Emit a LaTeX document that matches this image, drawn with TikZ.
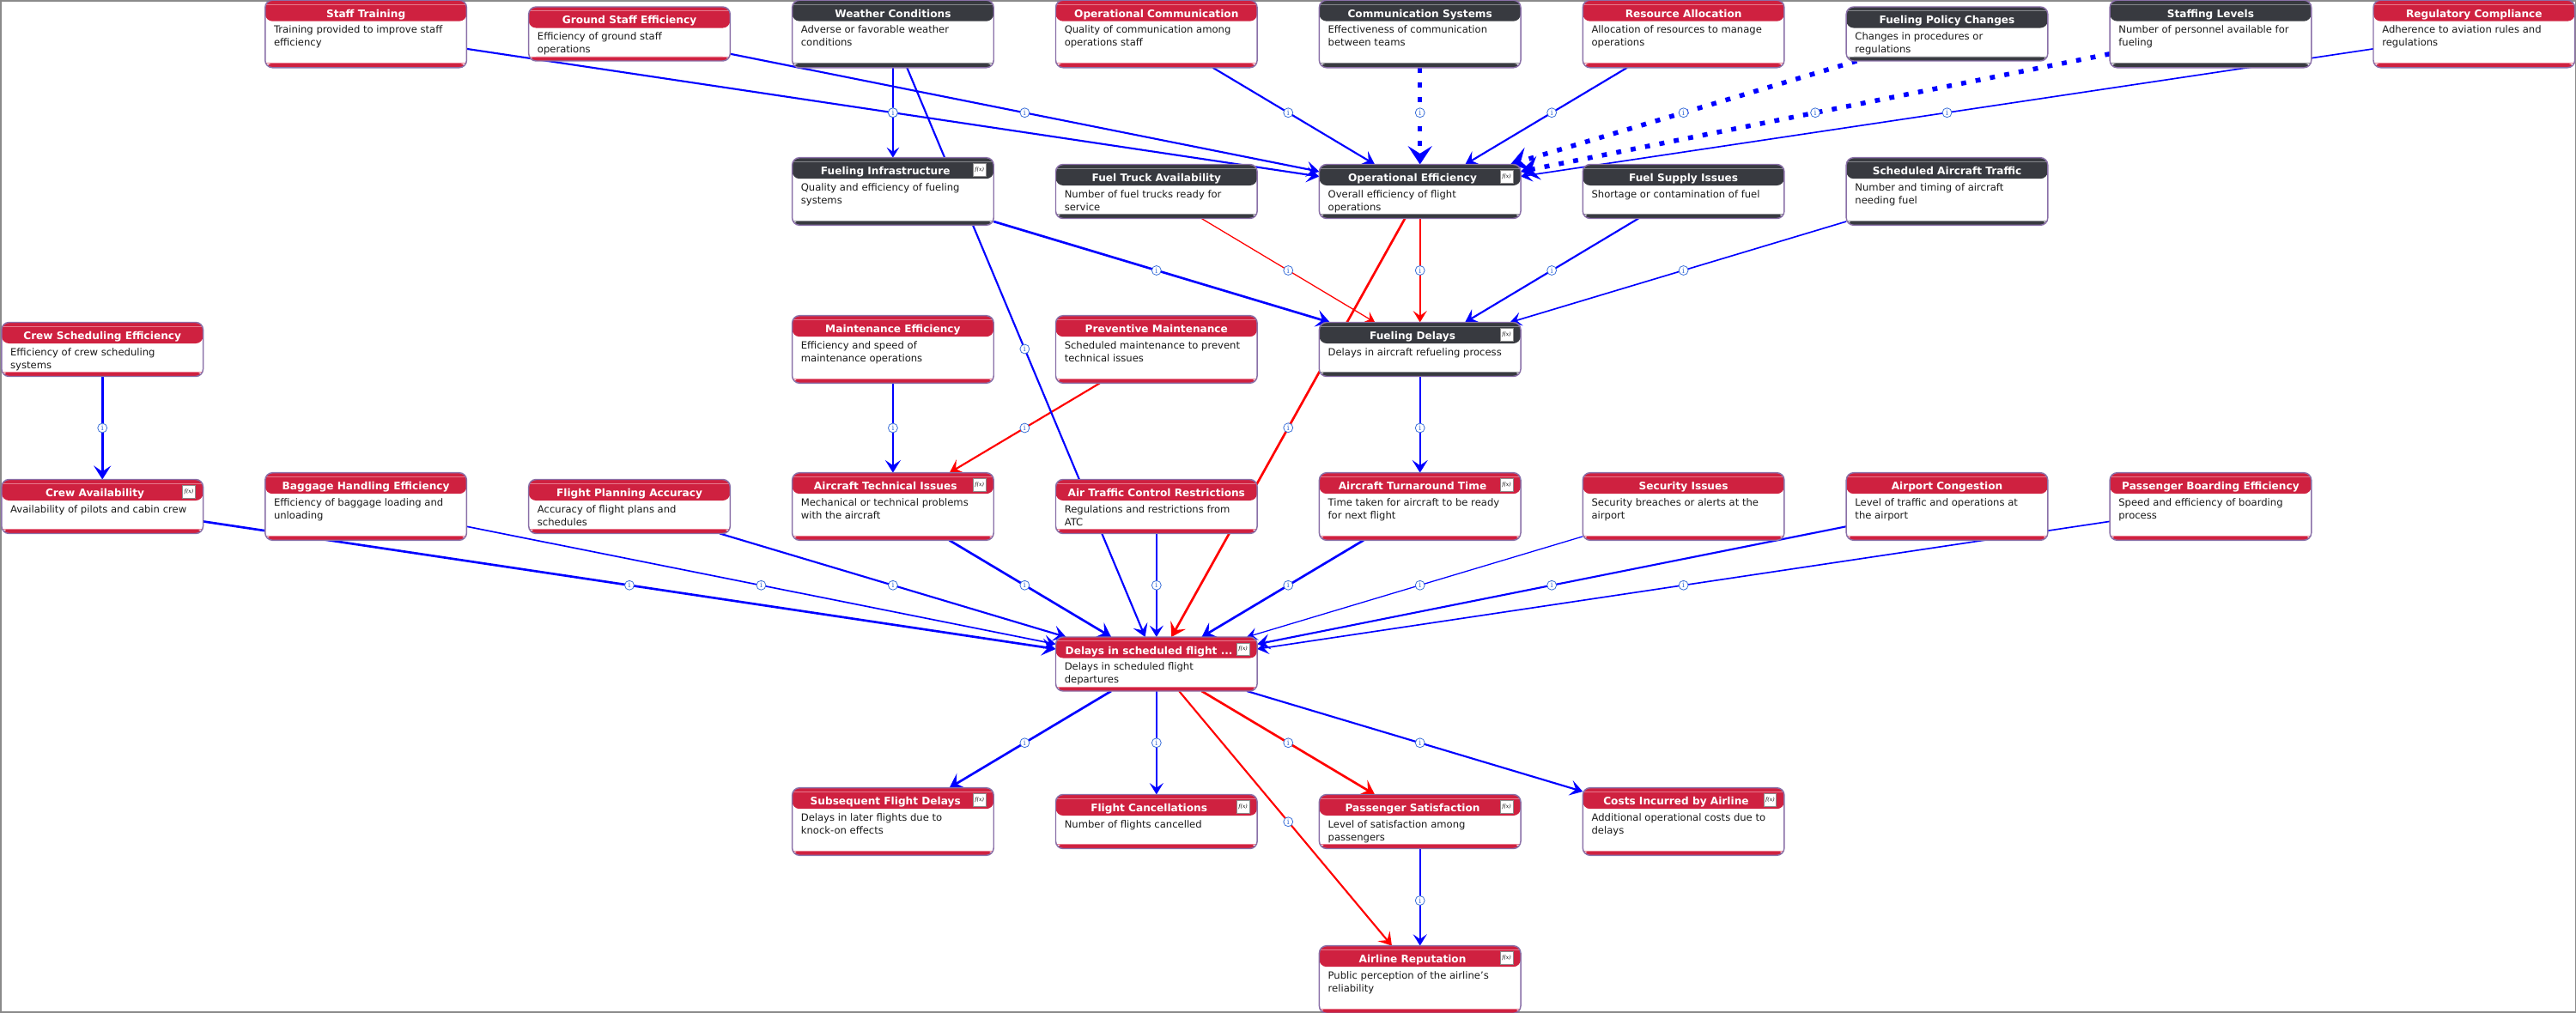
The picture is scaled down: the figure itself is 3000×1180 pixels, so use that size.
\documentclass[tikz,border=0pt]{standalone}
\usepackage{fontspec}
\setmainfont{DejaVu Sans}
\newfontfamily\iconfont{DejaVu Serif}
\usetikzlibrary{arrows.meta,calc}
\definecolor{hred}{HTML}{CF2140}
\definecolor{hredl}{HTML}{E8788C}
\definecolor{hdark}{HTML}{383A40}
\definecolor{hdarkl}{HTML}{85878C}
\definecolor{boxedge}{HTML}{8A70A8}
\definecolor{lblblue}{HTML}{3A6FD8}
\definecolor{framegray}{HTML}{8A8A8A}
\pgfdeclarelayer{edges}
\pgfdeclarelayer{labels}
\pgfsetlayers{edges,labels,main}
\tikzset{
  box/.style={draw=boxedge,line width=1.1pt,fill=white,rounded corners=6.5pt,
    minimum width=176pt,inner sep=0pt,outer sep=0pt,
    path picture={
      \fill[#1] (path picture bounding box.north west) rectangle ([yshift=-18.4pt]path picture bounding box.north east);
      \fill[#1] (path picture bounding box.south west) rectangle ([yshift=3.75pt]path picture bounding box.south east);
      \draw[#1l,line width=.55pt] ([yshift=-3.6pt]path picture bounding box.north west) -- ([yshift=-3.6pt]path picture bounding box.north east);
      \draw[#1l,line width=.55pt] ([yshift=3.75pt]path picture bounding box.south west) -- ([yshift=3.75pt]path picture bounding box.south east);
    }},
  tallbox/.style={minimum height=59pt},
  shortbox/.style={minimum height=47.25pt},
  ttl/.style={text=white,font=\fontsize{9.1}{9}\selectfont\bfseries,inner sep=0pt,anchor=base},
  dsc/.style={text=black!90,font=\fontsize{8.7}{11.25}\selectfont,align=left,inner sep=0pt,anchor=north west},
  fxi/.style={draw=black!45,line width=.4pt,fill=white,minimum size=11pt,inner sep=0pt,font=\iconfont\itshape\fontsize{4.6}{5}\selectfont},
  lbl/.style={circle,draw=lblblue,line width=.6pt,fill=white,minimum size=8.2pt,inner sep=0pt,text=lblblue,font=\iconfont\fontsize{6.6}{6}\selectfont},
  e15/.style={line width=.95pt,-{Stealth[length=9pt,width=11pt,inset=3.8pt]}},
  e2/.style={line width=1.25pt,-{Stealth[length=10pt,width=12pt,inset=4.2pt]}},
  e25/.style={line width=1.6pt,-{Stealth[length=11pt,width=13.5pt,inset=4.6pt]}},
  e3/.style={line width=2pt,-{Stealth[length=12pt,width=15pt,inset=5pt]}},
  e6/.style={line width=4.1pt,dash pattern=on 4.4pt off 8.4pt,-{Stealth[length=16pt,width=21pt,inset=6.5pt]}},
}
\newcommand{\bx}[8]{%
  \node[box=#5,#4box] (#1) at ({119.2+306.9*#2},#3) {};
  \node[ttl] (#1-t) at ([xshift=#6pt,yshift=-15pt]#1.north) {#7};
  \node[dsc] (#1-d) at ([xshift=7.5pt,yshift=-22.2pt]#1.north west) {#8};
}
\newcommand{\fx}[1]{%
  \node[fxi] (#1-fx) at ([xshift=-12.4pt,yshift=-10.6pt]#1.north east) {f(x)};
}
\newcommand{\ed}[4]{%
  \begin{pgfonlayer}{edges}\draw[#1,#4] (#2) -- (#3);\end{pgfonlayer}
  \begin{pgfonlayer}{labels}\node[lbl] (l-#2-#3) at ($(#2)!.5!(#3)$) {i};\end{pgfonlayer}
}
\begin{document}
\begin{tikzpicture}[x=0.75pt,y=-0.75pt]
\useasboundingbox (0,0) rectangle (3000,1180);
\begin{pgfonlayer}{edges}
\draw[framegray,line width=1.1pt] (0.8,0.8) rectangle (2999.2,1179.2);
\end{pgfonlayer}
% row 1
\bx{staff}{1}{39.5}{tall}{hred}{0}{Staff Training}{Training provided to improve staff\\efficiency}
\bx{ground}{2}{39.5}{short}{hred}{0}{Ground Staff Efficiency}{Efficiency of ground staff\\operations}
\bx{weather}{3}{39.5}{tall}{hdark}{0}{Weather Conditions}{Adverse or favorable weather\\conditions}
\bx{opcomm}{4}{39.5}{tall}{hred}{0}{Operational Communication}{Quality of communication among\\operations staff}
\bx{commsys}{5}{39.5}{tall}{hdark}{0}{Communication Systems}{Effectiveness of communication\\between teams}
\bx{resource}{6}{39.5}{tall}{hred}{0}{Resource Allocation}{Allocation of resources to manage\\operations}
\bx{policy}{7}{39.5}{short}{hdark}{0}{Fueling Policy Changes}{Changes in procedures or\\regulations}
\bx{staffing}{8}{39.5}{tall}{hdark}{0}{Staffing Levels}{Number of personnel available for\\fueling}
\bx{regul}{9}{39.5}{tall}{hred}{0}{Regulatory Compliance}{Adherence to aviation rules and\\regulations}
% row 2
\bx{infra}{3}{223}{tall}{hdark}{-6.5}{Fueling Infrastructure}{Quality and efficiency of fueling\\systems}\fx{infra}
\bx{truck}{4}{223}{short}{hdark}{0}{Fuel Truck Availability}{Number of fuel trucks ready for\\service}
\bx{opeff}{5}{223}{short}{hdark}{-6.5}{Operational Efficiency}{Overall efficiency of flight\\operations}\fx{opeff}
\bx{supply}{6}{223}{short}{hdark}{0}{Fuel Supply Issues}{Shortage or contamination of fuel}
\bx{sched}{7}{223}{tall}{hdark}{0}{Scheduled Aircraft Traffic}{Number and timing of aircraft\\needing fuel}
% row 3
\bx{crewsched}{0}{407}{short}{hred}{0}{Crew Scheduling Efficiency}{Efficiency of crew scheduling\\systems}
\bx{maint}{3}{407}{tall}{hred}{0}{Maintenance Efficiency}{Efficiency and speed of\\maintenance operations}
\bx{prevent}{4}{407}{tall}{hred}{0}{Preventive Maintenance}{Scheduled maintenance to prevent\\technical issues}
\bx{fueldelay}{5}{407}{short}{hdark}{-6.5}{Fueling Delays}{Delays in aircraft refueling process}\fx{fueldelay}
% row 4
\bx{crew}{0}{590}{short}{hred}{-6.5}{Crew Availability}{Availability of pilots and cabin crew}\fx{crew}
\bx{baggage}{1}{590}{tall}{hred}{0}{Baggage Handling Efficiency}{Efficiency of baggage loading and\\unloading}
\bx{planning}{2}{590}{short}{hred}{0}{Flight Planning Accuracy}{Accuracy of flight plans and\\schedules}
\bx{tech}{3}{590}{tall}{hred}{-6.5}{Aircraft Technical Issues}{Mechanical or technical problems\\with the aircraft}\fx{tech}
\bx{atc}{4}{590}{short}{hred}{0}{Air Traffic Control Restrictions}{Regulations and restrictions from\\ATC}
\bx{turn}{5}{590}{tall}{hred}{-6.5}{Aircraft Turnaround Time}{Time taken for aircraft to be ready\\for next flight}\fx{turn}
\bx{security}{6}{590}{tall}{hred}{0}{Security Issues}{Security breaches or alerts at the\\airport}
\bx{congest}{7}{590}{tall}{hred}{0}{Airport Congestion}{Level of traffic and operations at\\the airport}
\bx{boarding}{8}{590}{tall}{hred}{0}{Passenger Boarding Efficiency}{Speed and efficiency of boarding\\process}
% row 5
\bx{delays}{4}{773.5}{short}{hred}{-6.5}{Delays in scheduled flight ...}{Delays in scheduled flight\\departures}\fx{delays}
% row 6
\bx{subseq}{3}{957}{tall}{hred}{-6.5}{Subsequent Flight Delays}{Delays in later flights due to\\knock-on effects}\fx{subseq}
\bx{cancel}{4}{957}{short}{hred}{-6.5}{Flight Cancellations}{Number of flights cancelled}\fx{cancel}
\bx{paxsat}{5}{957}{short}{hred}{-6.5}{Passenger Satisfaction}{Level of satisfaction among\\passengers}\fx{paxsat}
\bx{costs}{6}{957}{tall}{hred}{-6.5}{Costs Incurred by Airline}{Additional operational costs due to\\delays}\fx{costs}
% row 7
\bx{reput}{5}{1141}{tall}{hred}{-6.5}{Airline Reputation}{Public perception of the airline's\\reliability}\fx{reput}
% edges into Operational Efficiency
\ed{e25}{staff}{opeff}{blue}
\ed{e25}{ground}{opeff}{blue}
\ed{e25}{opcomm}{opeff}{blue}
\ed{e6}{commsys}{opeff}{blue}
\ed{e25}{resource}{opeff}{blue}
\ed{e6}{policy}{opeff}{blue}
\ed{e6}{staffing}{opeff}{blue}
\ed{e2}{regul}{opeff}{blue}
% edges into Fueling Infrastructure and Fueling Delays
\ed{e15}{weather}{infra}{blue}
\ed{e3}{infra}{fueldelay}{blue}
\ed{e15}{truck}{fueldelay}{red}
\ed{e2}{opeff}{fueldelay}{red}
\ed{e25}{supply}{fueldelay}{blue}
\ed{e2}{sched}{fueldelay}{blue}
% mid-level
\ed{e3}{crewsched}{crew}{blue}
\ed{e25}{maint}{tech}{blue}
\ed{e25}{prevent}{tech}{red}
\ed{e25}{fueldelay}{turn}{blue}
% edges into Delays
\ed{e3}{crew}{delays}{blue}
\ed{e2}{baggage}{delays}{blue}
\ed{e25}{planning}{delays}{blue}
\ed{e3}{tech}{delays}{blue}
\ed{e25}{weather}{delays}{blue}
\ed{e2}{atc}{delays}{blue}
\ed{e3}{opeff}{delays}{red}
\ed{e3}{turn}{delays}{blue}
\ed{e15}{security}{delays}{blue}
\ed{e25}{congest}{delays}{blue}
\ed{e2}{boarding}{delays}{blue}
% edges out of Delays
\ed{e3}{delays}{subseq}{blue}
\ed{e2}{delays}{cancel}{blue}
\ed{e3}{delays}{paxsat}{red}
\ed{e25}{delays}{reput}{red}
\ed{e25}{delays}{costs}{blue}
\ed{e2}{paxsat}{reput}{blue}
\end{tikzpicture}
\end{document}
